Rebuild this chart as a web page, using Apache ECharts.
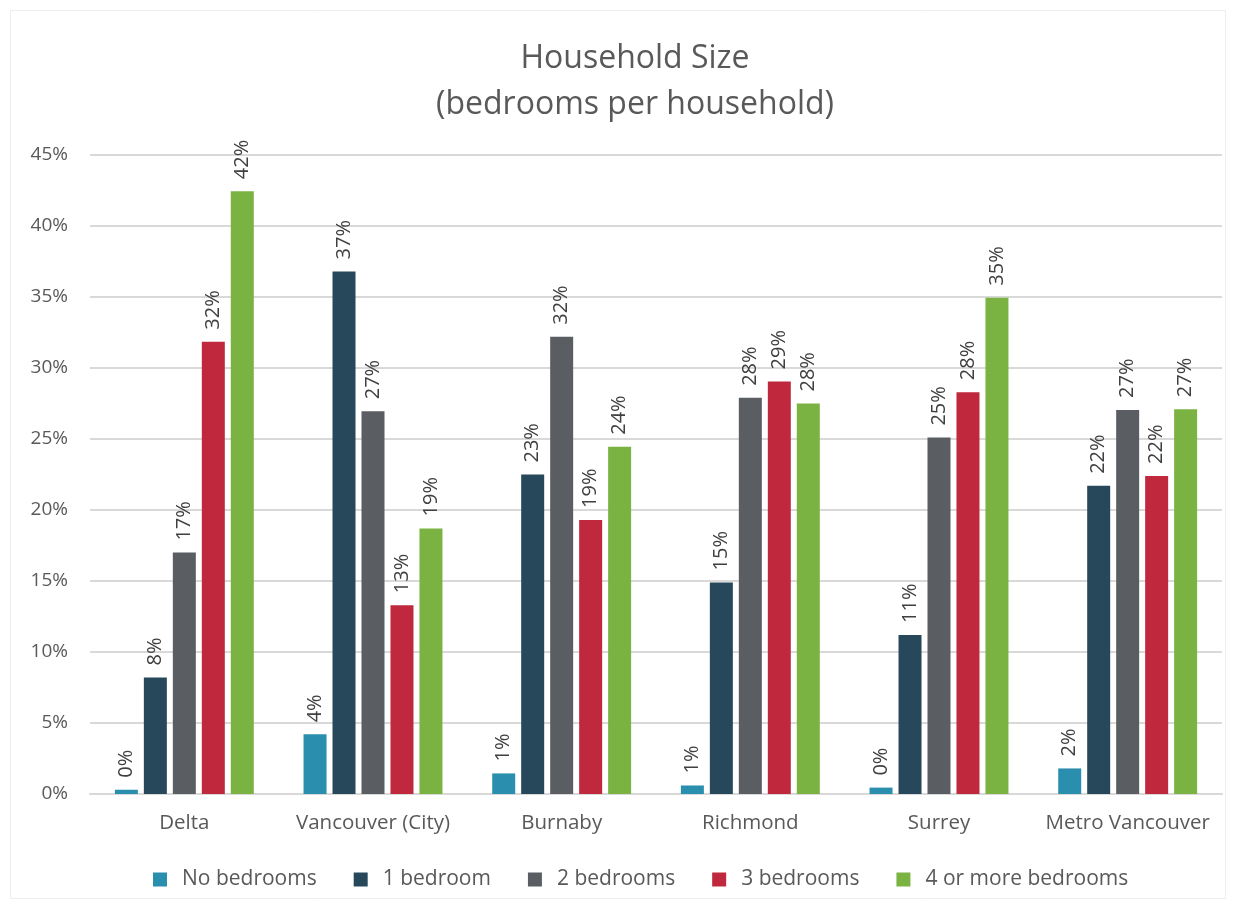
<!DOCTYPE html>
<html><head><meta charset="utf-8">
<script src="https://cdn.jsdelivr.net/npm/echarts@6/dist/echarts.min.js"></script>
<style>html,body{margin:0;padding:0;background:#fff}#c{width:1236px;height:909px}</style>
</head><body><div id="c"></div>
<script>
const categories = ['Delta','Vancouver (City)','Burnaby','Richmond','Surrey','Metro Vancouver'];
const seriesNames = ['No bedrooms','1 bedroom','2 bedrooms','3 bedrooms','4 or more bedrooms'];
const noBedrooms = [0.3, 4.2, 1.45, 0.6, 0.45, 1.8];
const oneBedroom = [8.2, 36.8, 22.5, 14.9, 11.2, 21.7];
const twoBedrooms = [17.0, 26.95, 32.2, 27.9, 25.1, 27.05];
const threeBedrooms = [31.85, 13.3, 19.3, 29.05, 28.3, 22.4];
const fourPlus = [42.45, 18.7, 24.45, 27.5, 34.95, 27.1];
const yTicks = [0,5,10,15,20,25,30,35,40,45];
const colors = ['#2A8FAE','#27485B','#5A5D62','#BF283D','#7AB342'];
const FONT = '"Open Sans", "Noto Sans", sans-serif';
const dataSets = [noBedrooms, oneBedroom, twoBedrooms, threeBedrooms, fourPlus];

const chart = echarts.init(document.getElementById('c'));
chart.setOption({
  animation: false,
  color: colors,
  graphic: [{type:'rect', shape:{x:10.5,y:10.5,width:1215,height:888}, style:{fill:'none', stroke:'#EDEDED', lineWidth:1}, silent:true}],
  title: {
    text: 'Household Size\n(bedrooms per household)',
    left: 630, top: 31, textAlign: 'center',
    textStyle: {fontFamily: FONT, fontSize: 32, fontWeight: 'normal', color: '#595959', lineHeight: 46}
  },
  legend: {
    bottom: 14, left: 148, itemWidth: 14, itemHeight: 14, itemGap: 37,
    icon: 'rect',
    textStyle: {fontFamily: FONT, fontSize: 21, color: '#595959', padding:[0,0,0,10]},
    data: seriesNames
  },
  grid: {left: 90, right: 14, top: 155, bottom: 115, containLabel: false},
  xAxis: {
    type: 'category', data: categories,
    axisLine: {lineStyle: {color: '#D9D9D9', width: 2}},
    axisTick: {show: false},
    axisLabel: {fontFamily: FONT, fontSize: 20.5, color: '#595959', margin: 19, interval: 0}
  },
  yAxis: {
    type: 'value', min: 0, max: 45, interval: 5,
    axisLine: {show: false}, axisTick: {show: false},
    splitLine: {lineStyle: {color: '#D9D9D9', width: 2}},
    axisLabel: {fontFamily: FONT, fontSize: 19, color: '#595959', margin: 22,
      formatter: v => yTicks.includes(v) ? v + '%' : ''}
  },
  series: dataSets.map((d, i) => ({
    name: seriesNames[i], type: 'bar', data: d,
    barWidth: 23, barGap: '26%',
    label: {
      show: true, position: 'top', rotate: 90, align: 'left', verticalAlign: 'middle',
      distance: 12, fontFamily: FONT, fontSize: 20, color: '#404040',
      formatter: p => Math.round(p.value) + '%'
    }
  }))
});
</script></body></html>
